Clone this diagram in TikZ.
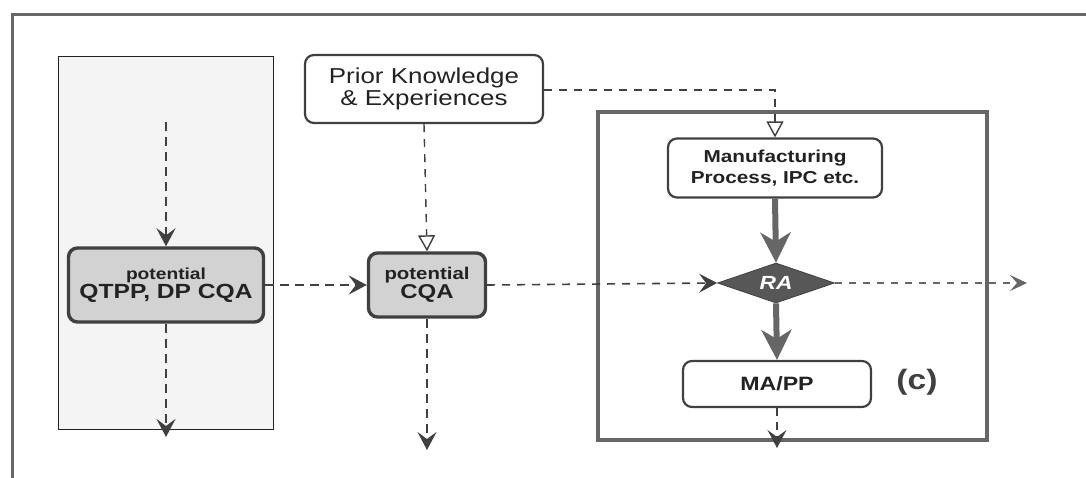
\documentclass[tikz,border=0pt]{standalone}
\usepackage{fontspec}
\setmainfont{Liberation Sans}
\newfontfamily\lab[FakeStretch=1.2]{Liberation Sans}
\usetikzlibrary{arrows.meta,shapes.geometric}

\definecolor{ink}{HTML}{222222}
\definecolor{edge}{HTML}{404040}
\definecolor{framegray}{HTML}{666666}
\definecolor{shade}{HTML}{D2D2D2}
\definecolor{panelfill}{HTML}{F4F4F4}
\definecolor{rafill}{HTML}{575757}

\tikzset{
  box/.style={draw=edge, line width=2.2pt, rounded corners=9pt, fill=white,
    align=center, text=ink, inner sep=0pt},
  hibox/.style={box, line width=3.4pt, fill=shade},
  dasharrow/.style={draw=edge, line width=2.2pt, dash pattern=on 9pt off 6pt,
    -{Stealth[length=18pt,width=19pt,inset=7pt]}},
  lightdash/.style={draw=edge!80, line width=1.3pt, dash pattern=on 7pt off 7pt,
    -{Stealth[length=17pt,width=16pt,inset=7pt]}},
  thindash/.style={draw=edge, line width=1.4pt, dash pattern=on 8pt off 7pt},
  opentip/.style={-{Triangle[open,length=16pt,width=17pt,fill=white]}},
  thickarrow/.style={draw=framegray, line width=6pt,
    -{Stealth[length=30pt,width=30pt,inset=9pt]}},
}

\begin{document}
\begin{tikzpicture}[x=1pt,y=-1pt]
\useasboundingbox (0,0) rectangle (1086,478);

% outer frame (continues past the right and bottom edges)
\draw[framegray, line width=3pt] (12,478) -- (12,15) -- (1086,15);

% shaded left panel
\node[draw=ink, line width=1pt, fill=panelfill, minimum width=215pt,
      minimum height=372pt, inner sep=0pt] (panel) at (165.5,243) {};

% big process box (c)
\node[draw=framegray, line width=4.5pt, minimum width=389pt,
      minimum height=328pt, inner sep=0pt] (pbox) at (792.5,276) {};

% nodes
\node[hibox, minimum width=195pt, minimum height=74pt, font=\lab\bfseries]
  (qtpp) at (166,285)
  {{\fontsize{16}{16}\selectfont potential}\\
   {\fontsize{20.5}{21}\selectfont QTPP, DP CQA}};

\node[hibox, minimum width=117pt, minimum height=64pt, font=\lab\bfseries]
  (cqa) at (427,285)
  {{\fontsize{17}{16}\selectfont potential}\\
   {\fontsize{20}{20}\selectfont CQA}};

\node[box, minimum width=238pt, minimum height=68pt,
      font=\lab\fontsize{21.6}{22}\selectfont] (prior) at (424,89)
  {Prior Knowledge\\ \& Experiences};

\node[box, minimum width=214pt, minimum height=59pt,
      font=\lab\bfseries\fontsize{17.3}{21}\selectfont] (manu) at (775,168)
  {Manufacturing\\ Process, IPC etc.};

\node[diamond, fill=rafill, draw=edge, line width=0.8pt, aspect=2.9,
      minimum width=117pt, minimum height=40pt, inner sep=0pt,
      text=white, font=\lab\bfseries\itshape\fontsize{19}{19}\selectfont]
  (ra) at (776,283) {RA};

\node[box, minimum width=188pt, minimum height=46pt,
      font=\lab\bfseries\fontsize{19.3}{19}\selectfont] (mapp) at (777,384)
  {MA/PP};

\node[text=edge, font=\lab\bfseries\fontsize{28}{28}\selectfont]
  (tagc) at (917,382) {(c)};

% free ends of connectors
\coordinate (qtppin) at (166,122);
\coordinate (qtppout) at (166,437);
\coordinate (cqaout) at (427,450);
\coordinate (raout) at (1027,283);
\coordinate (mappout) at (777,448);
\coordinate (bend) at (775,90);

% dashed flows
\draw[dasharrow] (qtppin) -- (qtpp.north);
\draw[dasharrow] (qtpp.south) -- (qtppout);
\draw[dasharrow] (qtpp.east) -- (cqa.west);
\draw[dasharrow, line width=1.8pt] (cqa.south) -- (cqaout);
\draw[dasharrow, line width=1.6pt, dash pattern=on 8pt off 7pt] (cqa.east) -- (ra.west);
\draw[lightdash] (ra.east) -- (raout);
\draw[dasharrow, line width=1.6pt, dash pattern=on 8pt off 6pt] (mapp.south) -- (mappout);

% knowledge feeds
\draw[thindash, opentip] (prior.south) -- (cqa.north);
\draw[thindash, opentip] (prior.east |- bend) -- (bend) -- (manu.north);

% main process flow
\draw[thickarrow] (manu.south) -- (ra.north);
\draw[thickarrow] (ra.south) -- (mapp.north);
\end{tikzpicture}
\end{document}
